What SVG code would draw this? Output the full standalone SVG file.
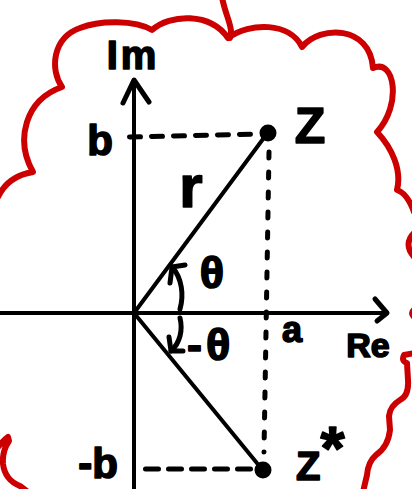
<svg xmlns="http://www.w3.org/2000/svg" width="412" height="489" viewBox="0 0 412 489">
<style>
.cloud{fill:none;stroke:#cc0000;stroke-width:6;stroke-linecap:round;stroke-linejoin:round}
.ax{fill:none;stroke:#000;stroke-width:4;stroke-linecap:round;stroke-linejoin:round}
.ah{fill:none;stroke:#000;stroke-width:5;stroke-linecap:round;stroke-linejoin:round}
.dash{fill:none;stroke:#000;stroke-width:5;stroke-linecap:round}
.t{font-family:"Liberation Sans",Arial,sans-serif;font-weight:bold;fill:#000;stroke:#000;stroke-width:1.6;stroke-linejoin:round}
</style>
<rect width="412" height="489" fill="#fff"/>
<g id="cloud">
<path class="cloud" d="M-2,197 Q8,176 33,172 C15,140 25,100 62,87 C50,70 52,38 80,28 C100,20 135,20 152,30 C170,14 210,12 228,38 C250,22 290,22 302,47 C320,25 370,25 373,68 C395,58 402,105 377,132 C392,148 402,170 397,190 Q407,193 414,212"/>
<path class="cloud" d="M230,38 C234,28 225,15 222,-3"/>
<path class="cloud" d="M415,232 Q402,244 415,258"/>
<path class="cloud" d="M415,309 Q409,313 415,318"/>
<path class="cloud" d="M415,353 L404,355 Q401,361 407,363 L408,380 Q409,396 400,400 Q390,406 389,416 L390,430 Q388,447 376,455 Q368,462 367,475 L363,492"/>
<path class="cloud" d="M-2,447 Q4,440 8,437 L9,441 Q2,451 3,464 Q5,480 20,486 L28,492"/>
</g>
<g id="axes">
<line class="ax" x1="-2" y1="313" x2="387" y2="313"/>
<polyline class="ah" points="375,299 387,313 377,321"/>
<line class="ax" x1="134" y1="80" x2="134" y2="492"/>
<polyline class="ah" points="123,103 134,80 149,102"/>
<text class="t" x="133" y="69" font-size="40" letter-spacing="3" text-anchor="middle">Im</text>
<text class="t" x="368" y="357" font-size="34" text-anchor="middle">Re</text>
</g>
<g id="connectors">
<line class="ax" x1="134" y1="313" x2="266" y2="135"/>
<line class="ax" x1="134" y1="313" x2="261" y2="468"/>
<line class="dash" x1="129.5" y1="137" x2="256" y2="134" stroke-dasharray="11 11"/>
<line class="dash" x1="269" y1="152" x2="264" y2="452" stroke-dasharray="6 14"/>
<line class="dash" x1="145.5" y1="469" x2="255" y2="469" stroke-dasharray="13 10"/>
<path class="ah" d="M180,309 C184,295 182,278 172,267"/>
<polyline class="ah" points="170,283 172,267 185,265"/>
<path class="ah" d="M180,318 C183,330 180,343 171,351"/>
<polyline class="ah" points="169,337 171,351 183,351"/>
</g>
<g id="node-z">
<circle cx="268" cy="133" r="8.5" fill="#000"/>
<text class="t" x="310" y="143" font-size="50" text-anchor="middle">Z</text>
</g>
<g id="node-zstar">
<circle cx="263" cy="470" r="8.5" fill="#000"/>
<text class="t" x="296" y="480" font-size="40">Z<tspan font-size="62" dy="-11">*</tspan></text>
</g>
<g id="labels">
<text class="t" x="100" y="155" font-size="42" text-anchor="middle">b</text>
<text class="t" x="118" y="478" font-size="42" text-anchor="end">-b</text>
<text class="t" x="292" y="342" font-size="36" text-anchor="middle">a</text>
<text class="t" x="191" y="207" font-size="60" text-anchor="middle">r</text>
<text class="t" x="212" y="288" font-size="45" text-anchor="middle">θ</text>
<text class="t" x="187" y="360" font-size="45" letter-spacing="4">-θ</text>
</g>
</svg>
